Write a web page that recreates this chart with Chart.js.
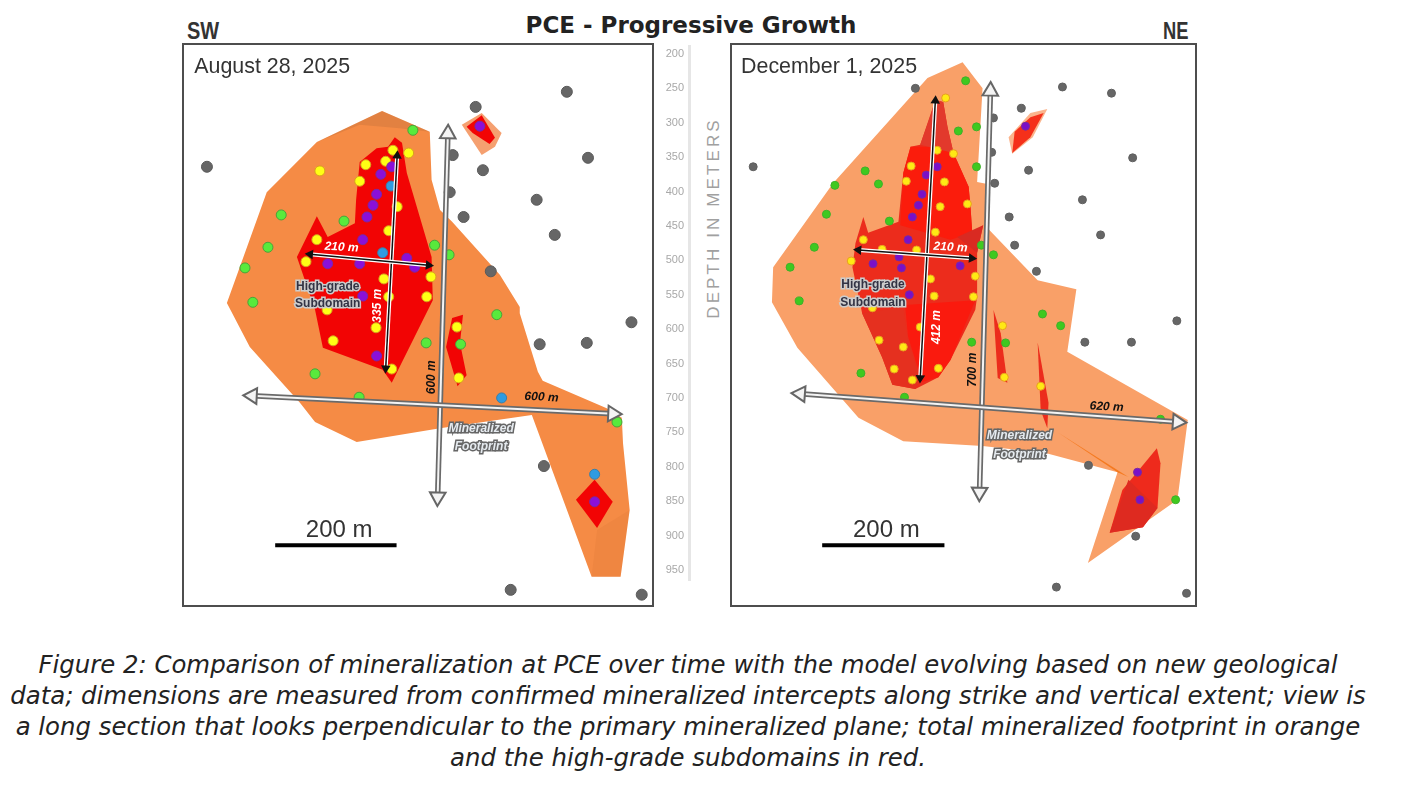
<!DOCTYPE html>
<html>
<head>
<meta charset="utf-8">
<script src="https://cdn.jsdelivr.net/npm/chart.js@4"></script>
<style>
  html, body { margin: 0; padding: 0; background: #fff; }
  body { width: 1403px; height: 786px; position: relative; overflow: hidden; }
  canvas { position: absolute; filter: blur(0.4px); }
  #panelA, #panelB { outline: 2px solid #4d4d4d; }
  #panelA { left: 184px; top: 45px; }
  #panelB { left: 732px; top: 45px; }
  #depthAxis { left: 650px; top: 45px; }
  .txt { position: absolute; white-space: nowrap; }
  #title { left: 391px; width: 600px; top: 12px; text-align: center; font: bold 23px "DejaVu Sans"; color: #222; }
  #sw { left: 187px; top: 18px; font: bold 23.5px "Liberation Sans"; color: #333; transform: scaleX(0.85); transform-origin: left; }
  #ne { left: 1163px; top: 18px; font: bold 23.5px "Liberation Sans"; color: #333; transform: scaleX(0.78); transform-origin: left; }
  #depthTitle { left: 714px; top: 218px; transform: translate(-50%, -50%) rotate(-90deg); font: 17px "Liberation Sans"; letter-spacing: 3.1px; color: #a0a0a0; }
  #caption { left: 0; width: 1376px; top: 649px; text-align: center; font: italic 24.4px/31px "DejaVu Sans"; color: #222; }
</style>
</head>
<body>
<div class="txt" id="title">PCE - Progressive Growth</div>
<div class="txt" id="sw">SW</div>
<div class="txt" id="ne">NE</div>
<canvas id="panelA" width="468" height="560"></canvas>
<canvas id="depthAxis" width="50" height="536"></canvas>
<canvas id="panelB" width="463" height="560"></canvas>
<div class="txt" id="depthTitle">DEPTH IN METERS</div>
<div class="txt" id="caption">Figure 2: Comparison of mineralization at PCE over time with the model evolving based on new geological<br>data; dimensions are measured from confirmed mineralized intercepts along strike and vertical extent; view is<br>a long section that looks perpendicular to the primary mineralized plane; total mineralized footprint in orange<br>and the high-grade subdomains in red.</div>
<script>
// all positions below are [metres along strike, depth in metres]
const depthTicks = [200, 250, 300, 350, 400, 450, 500, 550, 600, 650, 700, 750, 800, 850, 900, 950];

// August 28, 2025
const footprintA = [[328,284],[407,314],[410,384],[424,428],[444,445],[523,522],[556,569],[556,578],[586,663],[594,676],[700,716],[725,730],[727,767],[738,864],[723,961],[675,961],[576,726],[424,745],[286,765],[217,736],[192,708],[109,627],[71,563],[137,402],[220,329]];
const footprintTopA = [[460,304],[493,287],[526,316],[515,336],[493,348]];
const shadeTopA = [[328,284],[407,314],[357,309],[291,304],[220,329]];
const shadeTailA = [[684,893],[738,864],[723,961],[675,961]];
const subdomainA = [[349,322],[361,330],[369,374],[410,496],[412,559],[344,679],[329,660],[230,628],[217,573],[187,496],[220,437],[238,467],[283,447],[285,413],[291,358],[319,338],[338,336]];
const subdomainTopA = [[468,307],[493,290],[515,323],[506,332],[478,316]];
const subdomainMidA = [[444,585],[462,580],[457,621],[468,668],[453,684],[434,627]];
const subdomainLowA = [[680,820],[710,852],[684,890],[649,849]];
const grayA = [[38,365],[483,278],[634,256],[445,348],[495,370],[669,352],[440,402],[463,438],[584,413],[614,464],[508,517],[741,591],[589,623],[667,621],[596,800],[541,980],[758,987]];
const greenA = [[379,312],[161,435],[265,444],[139,482],[415,479],[439,493],[101,512],[114,562],[401,621],[458,623],[217,666],[290,700],[518,580],[717,736]];
const yellowA = [[346,341],[372,345],[334,357],[301,362],[225,371],[291,386],[353,423],[339,458],[220,471],[202,503],[409,525],[331,528],[402,554],[339,554],[237,573],[318,599],[247,618],[344,659],[452,598],[455,672]];
const purpleA = [[344,365],[326,376],[319,405],[313,421],[303,438],[296,471],[238,506],[291,506],[369,498],[382,511],[296,553],[319,640],[490,306],[680,852]];
const blueA = [[343,393],[329,490],[526,701],[680,812]];
const extentVerticalA = [[437,317],[420,845]];
const extentStrikeA = [[113,698],[710,724]];
const gradeVerticalA = [[353,349],[334,658]];
const gradeStrikeA = [[209,492],[405,508]];
const scaleBarA = [[151,915],[352,915]];
const labelsA = [
  ["August 28, 2025", 17, 220, 0, "date"],
  ["210 m", 261, 482, 3, "white"],
  ["335 m", 321, 567, -90, "white"],
  ["High-grade", 238, 540, 0, "sub"],
  ["Subdomain", 238, 564, 0, "sub"],
  ["600 m", 410, 671, -90, "black"],
  ["600 m", 592, 700, 3, "black"],
  ["Mineralized", 492, 746, 0, "foot"],
  ["Footprint", 492, 772, 0, "foot"],
  ["200 m", 257, 893, 0, "scale"]
];

// December 1, 2025
const footprintB = [[381,213],[414,251],[405,387],[422,390],[422,454],[505,530],[569,543],[554,634],[753,733],[736,849],[588,941],[637,809],[518,781],[414,771],[283,764],[209,730],[108,628],[66,562],[68,511],[167,389],[323,236]];
const footprintTopB = [[521,281],[493,287],[457,322],[463,346],[497,322]];
const shadeSliverB = [[538,751],[655,816],[637,809]];
const subdomainB = [[349,271],[356,307],[366,345],[391,394],[394,423],[397,461],[415,450],[405,490],[405,554],[402,573],[361,646],[341,671],[303,688],[265,682],[248,642],[215,578],[199,511],[204,476],[217,438],[225,461],[275,445],[283,374],[295,336],[311,333],[328,290],[336,268]];
const brightUpperB = [[295,336],[328,336],[366,345],[391,394],[394,423],[397,461],[361,471],[278,450],[283,374]];
const darkTopB = [[336,268],[349,271],[356,307],[366,345],[311,333]];
const darkWedgeB = [[372,467],[415,450],[405,490]];
const darkLowerB = [[215,578],[283,569],[290,612],[311,675],[303,688],[265,682],[248,642]];
const brightLowerB = [[286,566],[402,559],[361,646],[341,671],[314,678],[291,612]];
const subdomainTopB = [[515,287],[493,293],[467,314],[463,345],[493,322]];
const subdomainMid1B = [[432,573],[444,607],[455,679],[439,672]];
const subdomainMid2B = [[505,620],[523,708],[521,745],[510,719]];
const subdomainLowB = [[702,774],[708,796],[703,861],[679,889],[624,897],[645,835]];
const darkLowB = [[655,820],[703,861],[679,889],[624,897]];
const grayB = [[303,251],[35,365],[478,280],[432,294],[546,249],[627,258],[429,344],[662,352],[490,370],[434,389],[579,413],[458,438],[609,464],[467,479],[503,517],[735,589],[583,620],[660,620],[589,799],[667,902],[536,976],[751,985]];
const greenB = [[386,240],[374,313],[404,307],[404,365],[220,371],[170,392],[242,390],[156,434],[260,444],[136,482],[412,479],[432,493],[96,511],[111,560],[396,620],[213,665],[285,700],[513,579],[543,596],[452,621],[708,732],[733,849]];
const yellowB = [[353,265],[339,341],[366,346],[296,364],[288,386],[351,387],[389,419],[344,423],[336,460],[217,471],[248,485],[305,486],[197,502],[328,528],[402,524],[334,553],[399,554],[232,570],[311,598],[243,617],[283,627],[268,659],[298,675],[341,658],[447,596],[450,671],[510,684]];
const purpleB = [[339,365],[321,377],[314,405],[308,421],[298,438],[291,471],[276,496],[233,506],[280,512],[377,509],[293,551],[485,306],[670,809],[674,849]];
const extentVerticalB = [[427,255],[409,838]];
const extentStrikeB = [[113,695],[736,736]];
const gradeVerticalB = [[336,269],[311,672]];
const gradeStrikeB = [[209,486],[396,498]];
const scaleBarB = [[149,915],[351,915]];
const labelsB = [
  ["December 1, 2025", 15, 220, 0, "date"],
  ["210 m", 361, 482, 3, "white"],
  ["412 m", 338, 598, -90, "white"],
  ["High-grade", 233, 537, 0, "sub"],
  ["Subdomain", 233, 563, 0, "sub"],
  ["700 m", 397, 660, -90, "black"],
  ["620 m", 619, 714, 3, "black"],
  ["Mineralized", 475, 756, 0, "foot"],
  ["Footprint", 475, 783, 0, "foot"],
  ["200 m", 255, 893, 0, "scale"]
];

function xy(list) {
  return list.map(function (p) { return { x: p[0], y: p[1] }; });
}

function shape(list, color) {
  return {
    data: xy(list.concat([list[0]])),
    showLine: true,
    fill: "shape",
    backgroundColor: color,
    borderWidth: 0,
    pointRadius: 0,
    tension: 0
  };
}

function dots(list, color, edge, radius) {
  return {
    data: xy(list),
    backgroundColor: color,
    borderColor: edge,
    borderWidth: 1,
    pointRadius: radius
  };
}

function headAngle(ctx) {
  const pts = ctx.dataset.data;
  const scales = ctx.chart.scales;
  const here = pts[ctx.dataIndex];
  const other = pts[1 - ctx.dataIndex];
  const dx = scales.x.getPixelForValue(here.x) - scales.x.getPixelForValue(other.x);
  const dy = scales.y.getPixelForValue(here.y) - scales.y.getPixelForValue(other.y);
  return Math.atan2(dy, dx) * 180 / Math.PI + 90;
}

function line(list, color, width) {
  return { data: xy(list), showLine: true, borderColor: color, borderWidth: width, pointRadius: 0, fill: false };
}

function arrow(list, color, width, edge, size) {
  return {
    data: xy(list),
    showLine: true,
    fill: false,
    borderColor: color,
    borderWidth: width,
    pointStyle: "triangle",
    pointRadius: size,
    pointRotation: headAngle,
    pointBackgroundColor: color,
    pointBorderColor: edge,
    pointBorderWidth: 2
  };
}

const labelStyles = {
  date: { font: '21.4px "Liberation Sans"', fill: "#333", align: "left" },
  scale: { font: '24px "Liberation Sans"', fill: "#333", align: "center" },
  white: { font: 'italic bold 12px "Liberation Sans"', fill: "#fff", align: "center" },
  black: { font: 'italic bold 12px "Liberation Sans"', fill: "#111", align: "center" },
  sub: { font: 'bold 12px "Liberation Sans"', fill: "#334", halo: "#ccc", align: "center" },
  foot: { font: 'italic bold 12px "Liberation Sans"', fill: "#e6ebf0", halo: "#666", align: "center" }
};

// text inside the panels, placed through the scales
const panelLabels = {
  id: "panelLabels",
  afterDatasetsDraw: function (chart) {
    const ctx = chart.ctx;
    chart.options.plugins.panelLabels.items.forEach(function (item) {
      const style = labelStyles[item[4]];
      ctx.save();
      ctx.translate(chart.scales.x.getPixelForValue(item[1]), chart.scales.y.getPixelForValue(item[2]));
      ctx.rotate(item[3] * Math.PI / 180);
      ctx.font = style.font;
      ctx.textAlign = style.align;
      ctx.textBaseline = "middle";
      if (style.halo) {
        ctx.lineWidth = 3;
        ctx.strokeStyle = style.halo;
        ctx.strokeText(item[0], 0, 0);
      }
      ctx.fillStyle = style.fill;
      ctx.fillText(item[0], 0, 0);
      ctx.restore();
    });
  }
};

function panel(id, xMax, sets, labels) {
  return new Chart(document.getElementById(id), {
    type: "scatter",
    data: { datasets: sets.slice().reverse() },
    options: {
      responsive: false,
      animation: false,
      devicePixelRatio: 1,
      layout: { padding: 0, autoPadding: false },
      plugins: {
        legend: { display: false },
        tooltip: { enabled: false },
        panelLabels: { items: labels }
      },
      scales: {
        x: { type: "linear", display: false, min: 0, max: xMax },
        y: { type: "linear", display: false, reverse: true, min: 188, max: 1002 }
      }
    },
    plugins: [panelLabels]
  });
}

const orangeA = "#f58b45";
const redA = "#f20404";
const orangeB = "#f9a068";
const redB = "#ec2c1c";

panel("panelA", 775, [
  shape(footprintA, orangeA),
  shape(shadeTopA, "rgba(150,90,50,0.2)"),
  shape(shadeTailA, "rgba(200,100,40,0.12)"),
  shape(footprintTopA, "#f5a070"),
  shape(subdomainA, redA),
  shape(subdomainTopA, redA),
  shape(subdomainMidA, redA),
  shape(subdomainLowA, redA),
  dots(grayA, "#666666", "#5a5a5a", 5.5),
  dots(greenA, "#58ea3c", "#4aa23a", 5),
  dots(yellowA, "#ffff14", "#d8a020", 5),
  dots(purpleA, "#8a10d8", "#7a2aa0", 5),
  dots(blueA, "#2f9be0", "#3a7fa8", 5),
  line(extentVerticalA, "#6a6a6a", 5.5),
  arrow(extentVerticalA, "#f4f4f4", 2, "#666", 9),
  line(extentStrikeA, "#6a6a6a", 5.5),
  arrow(extentStrikeA, "#f4f4f4", 2, "#666", 9),
  line(gradeVerticalA, "#fff", 4),
  arrow(gradeVerticalA, "#111", 1.5, "#111", 3.5),
  line(gradeStrikeA, "#fff", 4),
  arrow(gradeStrikeA, "#111", 1.5, "#111", 3.5),
  line(scaleBarA, "#000", 4)
], labelsA);

panel("panelB", 765, [
  shape(footprintB, orangeB),
  shape(shadeSliverB, "#f57a20"),
  shape(footprintTopB, "#fbb48c"),
  shape(subdomainB, redB),
  shape(brightUpperB, "#fb1c0c"),
  shape(darkTopB, "#e2392c"),
  shape(darkWedgeB, "#d92a22"),
  shape(darkLowerB, "#e5301f"),
  shape(brightLowerB, "#fa1a0e"),
  shape(subdomainTopB, "#f5301a"),
  shape(subdomainMid1B, redB),
  shape(subdomainMid2B, redB),
  shape(subdomainLowB, "#ee2a1c"),
  shape(darkLowB, "#de2a20"),
  dots(grayB, "#666666", "#5f5f5f", 4),
  dots(greenB, "#3fc91f", "#3fb02a", 4),
  dots(yellowB, "#ffe914", "#e8a020", 4),
  dots(purpleB, "#7a10c8", "#7a2aa0", 4),
  line(extentVerticalB, "#6a6a6a", 5.5),
  arrow(extentVerticalB, "#f4f4f4", 2, "#666", 9),
  line(extentStrikeB, "#6a6a6a", 5.5),
  arrow(extentStrikeB, "#f4f4f4", 2, "#666", 9),
  line(gradeVerticalB, "#fff", 4),
  arrow(gradeVerticalB, "#111", 1.5, "#111", 3.5),
  line(gradeStrikeB, "#fff", 4),
  arrow(gradeStrikeB, "#111", 1.5, "#111", 3.5),
  line(scaleBarB, "#000", 4)
], labelsB);

// depth ruler between the two panels
new Chart(document.getElementById("depthAxis"), {
  type: "scatter",
  data: { datasets: [] },
  options: {
    responsive: false,
    animation: false,
    devicePixelRatio: 1,
    layout: { padding: 0, autoPadding: false },
    plugins: { legend: { display: false }, tooltip: { enabled: false } },
    scales: {
      x: { type: "linear", display: false, min: 0, max: 1 },
      y: {
        type: "linear",
        reverse: true,
        min: 187,
        max: 966,
        position: "left",
        afterFit: function (scale) {
          scale.width = 39;
          scale.paddingTop = 0;
          scale.paddingBottom = 0;
        },
        afterBuildTicks: function (scale) {
          scale.ticks = depthTicks.map(function (v) { return { value: v }; });
        },
        grid: { display: false, drawTicks: false },
        border: { display: true, color: "#e6e6e6", width: 3 },
        ticks: { color: "#a8a8a8", font: { size: 11, family: "Liberation Sans" }, padding: 5, autoSkip: false }
      }
    }
  }
});
</script>
</body>
</html>
